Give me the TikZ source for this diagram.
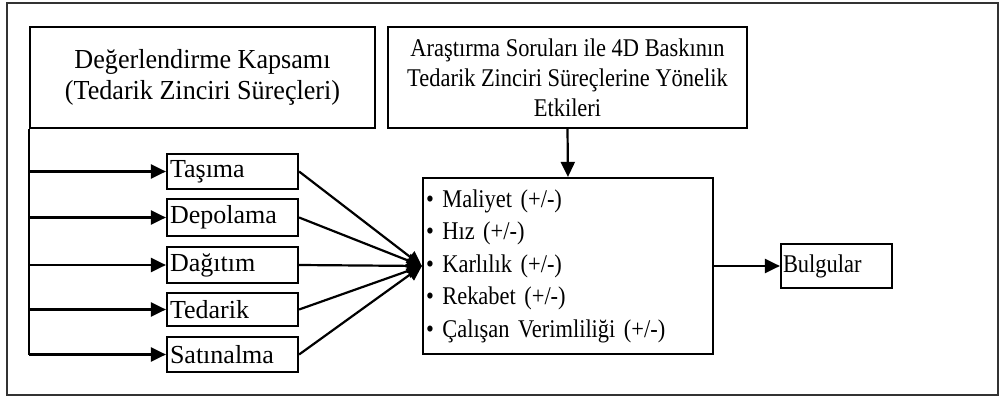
\documentclass[tikz,border=0pt]{standalone}
\usepackage{fontspec}
\setmainfont{Liberation Serif}
\newfontfamily\nserif[FakeStretch=0.88]{Liberation Serif}
\newfontfamily\mserif[FakeStretch=0.95]{Liberation Serif}
\newcommand\nspc{\spaceskip=5.6pt\relax}
\newcommand\mspc{\spaceskip=6.5pt\relax}
\usetikzlibrary{arrows.meta}
\begin{document}
\begin{tikzpicture}[x=1pt,y=1pt,
  every node/.style={font=\fontsize{26}{31}\selectfont},
  small/.style={font=\nserif\fontsize{25.5}{30}\selectfont\nspc},
  box/.style={draw, line width=2.2pt, inner sep=0pt, anchor=center},
  sbox/.style={box, minimum width=131, text width=125, align=left, inner xsep=3pt},
  arr/.style={line width=2.2pt, -{Triangle[length=15pt,width=14pt]}},
  ln/.style={line width=2.2pt}]
\useasboundingbox (0,0) rectangle (1002,-396);
\draw[line width=2pt, draw=black!80] (7,-3) rectangle (998,-395);
% top boxes
\node[box, minimum width=345, minimum height=101, align=center,
  font=\mserif\fontsize{27.5}{31}\selectfont\mspc] (lbox) at (202.5,-77.5)
  {Değerlendirme Kapsamı\\(Tedarik Zinciri Süreçleri)};
\node[box, small, minimum width=359, minimum height=101, align=center] (rbox) at (567.5,-77.5)
  {Araştırma Soruları ile 4D Baskının\\Tedarik Zinciri Süreçlerine Yönelik\\Etkileri};
% small boxes
\node[sbox, minimum height=35] (tas) at (232.5,-171.5) {Taşıma};
\node[sbox, minimum height=37] (dep) at (232.5,-217.5) {Depolama};
\node[sbox, minimum height=36] (dag) at (232.5,-265) {Dağıtım};
\node[sbox, minimum height=33] (ted) at (232.5,-309.5) {Tedarik};
\node[sbox, minimum height=35] (sat) at (232.5,-354.5) {Satınalma};
% central box
\node[box, minimum width=290, minimum height=176, text width=284, align=left,
  font=\nserif\fontsize{25.5}{32.5}\selectfont\nspc] (cbox) at (568,-266)
  {• Maliyet (+/-)\\• Hız (+/-)\\• Karlılık (+/-)\\• Rekabet (+/-)\\• Çalışan Verimliliği (+/-)};
% Bulgular
\node[box, small, minimum width=111, minimum height=44, text width=107, align=left] (bul) at (836.5,-266) {Bulgular};
% left spine
\coordinate (spinebot) at (lbox.south west |- sat.west);
\draw[ln] (lbox.south west) -- (spinebot);
\foreach \b in {tas,dep,dag,ted,sat}{
  \draw[arr] (lbox.south west |- \b.west) -- (\b.west);
  \draw[arr] (\b.east) -- (cbox.west);
}
\draw[arr] (rbox.south) -- (cbox.north);
\draw[arr] (cbox.east) -- (bul.west);
\end{tikzpicture}
\end{document}
